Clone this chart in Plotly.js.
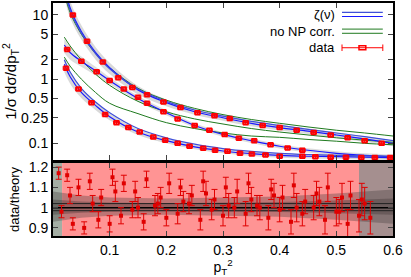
<!DOCTYPE html>
<html><head><meta charset="utf-8">
<script src="https://cdn.plot.ly/plotly-3.0.1.min.js"></script>
<style>html,body{margin:0;padding:0;background:#fff}#c{width:411px;height:277px}</style>
</head><body><div id="c"></div>
<script>
// theory grid
const xt = [0.02,0.03,0.05,0.075,0.1,0.15,0.2,0.25,0.3,0.35,0.4,0.45,0.5,0.55,0.6];
const theoryA  = [30,13,5.5,2.6,1.5,0.68,0.43,0.31,0.25,0.205,0.176,0.155,0.135,0.117,0.1];
const theoryA2 = [26,12,5.2,2.5,1.45,0.7,0.45,0.33,0.265,0.22,0.19,0.165,0.145,0.127,0.11];
const theoryB  = [3.4,2.6,1.9,1.35,0.95,0.5,0.3,0.19,0.138,0.11,0.09,0.078,0.07,0.065,0.062];
const theoryC  = [1.7,1.1,0.62,0.39,0.26,0.15,0.11,0.088,0.076,0.069,0.065,0.063,0.062,0.061,0.06];
const theoryC2 = [2.0,1.3,0.72,0.44,0.3,0.17,0.122,0.097,0.083,0.075,0.07,0.067,0.065,0.064,0.063];
const noNPA = [22,11,5.0,2.5,1.5,0.72,0.47,0.35,0.28,0.235,0.205,0.18,0.16,0.145,0.13];
const noNPB = [4.5,3.3,2.0,1.2,0.8,0.45,0.31,0.24,0.2,0.17,0.15,0.135,0.122,0.112,0.104];
const noNPC = [2.2,1.6,1.0,0.62,0.42,0.29,0.21,0.17,0.145,0.13,0.124,0.115,0.108,0.1,0.095];
const bandRelA = [0.35,0.3,0.25,0.22,0.2,0.15,0.12,0.1,0.1,0.1,0.1,0.1,0.1,0.1,0.1];
const bandRelC = [0.25,0.22,0.18,0.15,0.12,0.1,0.09,0.08,0.08,0.08,0.08,0.08,0.08,0.08,0.08];

// data
const dataAx = [0.035,0.06,0.088,0.115,0.14,0.166,0.195,0.225,0.255,0.285,0.312,0.34,0.37,0.4,0.43,0.46,0.49,0.52,0.55,0.58];
const dataAy = [10,3.9,1.85,1.05,0.74,0.57,0.44,0.36,0.30,0.27,0.243,0.21,0.19,0.176,0.16,0.148,0.135,0.122,0.11,0.1];
const dataBx = [0.025,0.05,0.077,0.1,0.125,0.15,0.166,0.195,0.22,0.25,0.276,0.303,0.328,0.355,0.384,0.414,0.44];
const dataBy = [2.9,1.9,1.3,0.95,0.7,0.52,0.42,0.31,0.24,0.19,0.16,0.137,0.12,0.11,0.095,0.085,0.078];
const dataCx = [0.023,0.045,0.068,0.092,0.112,0.133,0.153,0.177,0.198,0.22,0.241,0.265,0.286,0.308,0.33,0.351,0.375,0.4,0.44,0.463,0.49,0.517,0.544,0.568,0.595];
const dataCy = [1.48,0.70,0.43,0.28,0.21,0.176,0.15,0.125,0.112,0.1,0.09,0.084,0.078,0.075,0.07,0.068,0.066,0.063,0.063,0.062,0.061,0.061,0.06,0.06,0.06];
const dataRelErr = 0.05;
const dataXErr = 0.005;

// ratio panel
const ratioPinkX = [0.016,0.54];
const ratioLeftX = [0,0.016];
const ratioRightX = [0.54,0.6];
const ratioTop = 1.22;
const ratioBandX = [0,0.05,0.1,0.2,0.3,0.4,0.5,0.6];
const ratioBandLo = [0.93,0.95,0.96,0.965,0.96,0.955,0.94,0.92];
const ratioBandHi = [1.08,1.06,1.05,1.045,1.05,1.055,1.07,1.09];
const ratioInnerLo = [0.965,0.975,0.98,0.982,0.98,0.978,0.972,0.965];
const ratioInnerHi = [1.04,1.03,1.025,1.022,1.025,1.028,1.035,1.045];
const refLineX = [0,0.6];
const refLines = [1.0,0.985,1.02];
const r1x = [0.01,0.025,0.045,0.065,0.085,0.105,0.125,0.145,0.165,0.185,0.205,0.225,0.245,0.265,0.285,0.305,0.325,0.345,0.365,0.385,0.405,0.425,0.445,0.465,0.485,0.505,0.525,0.545];
const r1y = [1.17,1.16,1.1,1.13,1.05,1.15,1.12,1.08,1.14,1.02,1.12,1.1,1.06,1.13,1.04,1.1,1.08,1.12,1.0,1.09,1.05,1.11,1.03,1.07,1.1,0.98,1.06,1.04];
const r1e = [0.03,0.03,0.04,0.04,0.04,0.04,0.04,0.05,0.04,0.05,0.05,0.04,0.05,0.05,0.05,0.05,0.06,0.05,0.06,0.05,0.06,0.06,0.06,0.06,0.07,0.06,0.07,0.08];
const r2x = [0.015,0.035,0.055,0.08,0.1,0.12,0.14,0.16,0.18,0.2,0.22,0.24,0.26,0.28,0.3,0.32,0.34,0.36,0.38,0.4,0.42,0.44,0.46,0.48,0.5,0.52,0.54,0.56];
const r2y = [0.98,0.92,0.9,0.94,0.92,0.96,0.99,0.93,1.01,0.95,0.97,1.02,0.94,0.99,0.96,1.0,0.97,1.01,0.95,0.99,0.93,0.97,1.0,0.94,0.98,0.92,0.96,0.95];
const r2e = [0.03,0.03,0.03,0.04,0.04,0.04,0.04,0.04,0.05,0.04,0.05,0.05,0.05,0.05,0.05,0.05,0.06,0.05,0.06,0.06,0.06,0.06,0.06,0.07,0.07,0.07,0.08,0.08];
const r3x = [0.03,0.07,0.11,0.15,0.19,0.23,0.27,0.31,0.35,0.39,0.43,0.47,0.51,0.55];
const r3y = [1.06,1.02,1.08,1.0,1.05,1.03,1.07,1.01,1.04,1.06,1.0,1.03,1.05,1.02];
const r3e = [0.04,0.04,0.05,0.05,0.05,0.05,0.06,0.06,0.06,0.06,0.07,0.07,0.07,0.08];

// tick labels
const topTickVals = [0.1,0.25,0.5,1,2,5,10];
const topTickText = ['0.1','0.25','0.5','1','2','5','10'];
const ratioTickVals = [0.9,1,1.1,1.2];
const ratioTickText = ['0.9','1','1.1','1.2'];
const xTickVals = [0.1,0.2,0.3,0.4,0.5,0.6];
const xTickText = ['0.1','0.2','0.3','0.4','0.5','0.6'];
const legendLabels = ['ζ(ν)','no NP corr.','data'];

const BLUE='#1a1aff', BLUE2='#3f4fd8', GREEN='#1f7a1f', RED='#ff0000';
const traces = [];
// ---- ratio panel ----
traces.push({x:ratioLeftX,y:[ratioTop,ratioTop],xaxis:'x2',yaxis:'y2',mode:'lines',line:{width:0},fill:'tozeroy',fillcolor:'rgba(125,140,125,0.7)',hoverinfo:'skip',showlegend:false});
traces.push({x:ratioPinkX,y:[ratioTop,ratioTop],xaxis:'x2',yaxis:'y2',mode:'lines',line:{width:0},fill:'tozeroy',fillcolor:'#ff9494',hoverinfo:'skip',showlegend:false});
traces.push({x:ratioRightX,y:[ratioTop,ratioTop],xaxis:'x2',yaxis:'y2',mode:'lines',line:{width:0},fill:'tozeroy',fillcolor:'rgba(135,105,105,0.75)',hoverinfo:'skip',showlegend:false});
traces.push({x:ratioBandX,y:ratioBandLo,xaxis:'x2',yaxis:'y2',mode:'lines',line:{width:0},hoverinfo:'skip',showlegend:false});
traces.push({x:ratioBandX,y:ratioBandHi,xaxis:'x2',yaxis:'y2',mode:'lines',line:{width:0},fill:'tonexty',fillcolor:'rgba(70,60,60,0.35)',hoverinfo:'skip',showlegend:false});
traces.push({x:ratioBandX,y:ratioInnerLo,xaxis:'x2',yaxis:'y2',mode:'lines',line:{width:0},hoverinfo:'skip',showlegend:false});
traces.push({x:ratioBandX,y:ratioInnerHi,xaxis:'x2',yaxis:'y2',mode:'lines',line:{width:0},fill:'tonexty',fillcolor:'rgba(50,40,40,0.3)',hoverinfo:'skip',showlegend:false});
refLines.forEach((v,i)=>traces.push({x:refLineX,y:[v,v],xaxis:'x2',yaxis:'y2',mode:'lines',line:{color:i===0?'#000':'#222',width:i===0?1.5:1},hoverinfo:'skip',showlegend:false}));
[[r1x,r1y,r1e],[r2x,r2y,r2e],[r3x,r3y,r3e]].forEach(([xx,yy,ee])=>traces.push({x:xx,y:yy,xaxis:'x2',yaxis:'y2',mode:'markers',marker:{symbol:'square',size:4,color:'#e00000'},error_y:{type:'data',array:ee,color:'#e00000',thickness:1,width:3},showlegend:false}));

// ---- top panel ----
function band(th,rel,col){
  traces.push({x:xt,y:th.map((v,i)=>v*(1-rel[i])),mode:'lines',line:{width:0,shape:'spline'},hoverinfo:'skip',showlegend:false});
  traces.push({x:xt,y:th.map((v,i)=>v*(1+rel[i])),mode:'lines',line:{width:0,shape:'spline'},fill:'tonexty',fillcolor:col,hoverinfo:'skip',showlegend:false});
}
band(theoryA,bandRelA,'rgba(170,170,170,0.45)');
band(theoryB,bandRelC,'rgba(170,170,170,0.4)');
band(theoryC,bandRelC,'rgba(170,170,170,0.45)');
[[noNPA],[noNPB],[noNPC]].forEach(([g])=>traces.push({x:xt,y:g,mode:'lines',line:{color:GREEN,width:1,shape:'spline'},showlegend:false}));
[[theoryA,BLUE],[theoryA2,BLUE2],[theoryB,BLUE],[theoryC,BLUE],[theoryC2,BLUE2]].forEach(([t,c])=>traces.push({x:xt,y:t,mode:'lines',line:{color:c,width:1.2,shape:'spline'},showlegend:false}));
[[dataAx,dataAy],[dataBx,dataBy],[dataCx,dataCy]].forEach(([xx,yy])=>traces.push({x:xx,y:yy,mode:'markers',
  marker:{symbol:'square-open',size:4,color:RED,line:{width:1.5}},
  error_y:{type:'percent',value:dataRelErr*100,color:RED,thickness:1,width:2},
  error_x:{type:'constant',value:dataXErr,color:RED,thickness:1,width:2},showlegend:false}));

const F='Liberation Sans, Arial, sans-serif';
const LY = [0.95,0.879,0.808];
const layout = {
  width:411,height:277,margin:{l:53,r:18,t:3,b:41},paper_bgcolor:'#fff',plot_bgcolor:'rgba(0,0,0,0)',
  font:{family:F,size:14,color:'#000'},showlegend:false,
  xaxis:{domain:[0,1],anchor:'y',range:[0,0.6],tickvals:xTickVals,showticklabels:false,ticks:'inside',ticklen:5,mirror:'allticks',showline:true,linewidth:2,linecolor:'#000',showgrid:false,zeroline:false},
  yaxis:{domain:[0.326,1],type:'log',range:[-1.26,1.185],tickvals:topTickVals,ticktext:topTickText,ticks:'inside',ticklen:5,mirror:'allticks',showline:true,linewidth:2,linecolor:'#000',showgrid:false,zeroline:false,
    title:{text:'1/σ dσ/dp<sub>T</sub><sup>2</sup>',font:{size:15},standoff:4}},
  xaxis2:{domain:[0,1],anchor:'y2',range:[0,0.6],tickvals:xTickVals,ticktext:xTickText,ticks:'inside',ticklen:5,mirror:'allticks',showline:true,linewidth:2,linecolor:'#000',showgrid:false,zeroline:false,
    title:{text:'p<sub>T</sub><sup>2</sup>',font:{size:14},standoff:2}},
  yaxis2:{domain:[0,0.313],range:[0.86,1.22],tickvals:ratioTickVals,ticktext:ratioTickText,ticks:'inside',ticklen:5,mirror:'allticks',showline:true,linewidth:2,linecolor:'#000',showgrid:false,zeroline:false,
    title:{text:'data/theory',font:{size:13},standoff:6}},
  annotations: legendLabels.map((t,i)=>({xref:'paper',yref:'paper',x:0.832,y:LY[i],xanchor:'right',yanchor:'middle',text:t,showarrow:false,borderpad:0,font:{size:13}})),
  shapes:[
    {type:'line',xref:'paper',yref:'paper',x0:0.85,x1:0.97,y0:LY[0]+0.01,y1:LY[0]+0.01,line:{color:BLUE2,width:1.2}},
    {type:'line',xref:'paper',yref:'paper',x0:0.85,x1:0.97,y0:LY[0]-0.008,y1:LY[0]-0.008,line:{color:BLUE,width:1.2}},
    {type:'line',xref:'paper',yref:'paper',x0:0.85,x1:0.97,y0:LY[1]+0.009,y1:LY[1]+0.009,line:{color:GREEN,width:1}},
    {type:'line',xref:'paper',yref:'paper',x0:0.85,x1:0.97,y0:LY[1]-0.009,y1:LY[1]-0.009,line:{color:GREEN,width:1}},
    {type:'line',xref:'paper',yref:'paper',x0:0.85,x1:0.97,y0:LY[2],y1:LY[2],line:{color:RED,width:1}},
    {type:'line',xref:'paper',yref:'paper',x0:0.85,x1:0.85,y0:LY[2]-0.014,y1:LY[2]+0.014,line:{color:RED,width:1}},
    {type:'line',xref:'paper',yref:'paper',x0:0.97,x1:0.97,y0:LY[2]-0.014,y1:LY[2]+0.014,line:{color:RED,width:1}},
    {type:'rect',xref:'paper',yref:'paper',x0:0.9,x1:0.92,y0:LY[2]-0.009,y1:LY[2]+0.009,line:{color:RED,width:1.5}}
  ]
};
Plotly.newPlot('c',traces,layout,{staticPlot:true,displayModeBar:false});
</script></body></html>
